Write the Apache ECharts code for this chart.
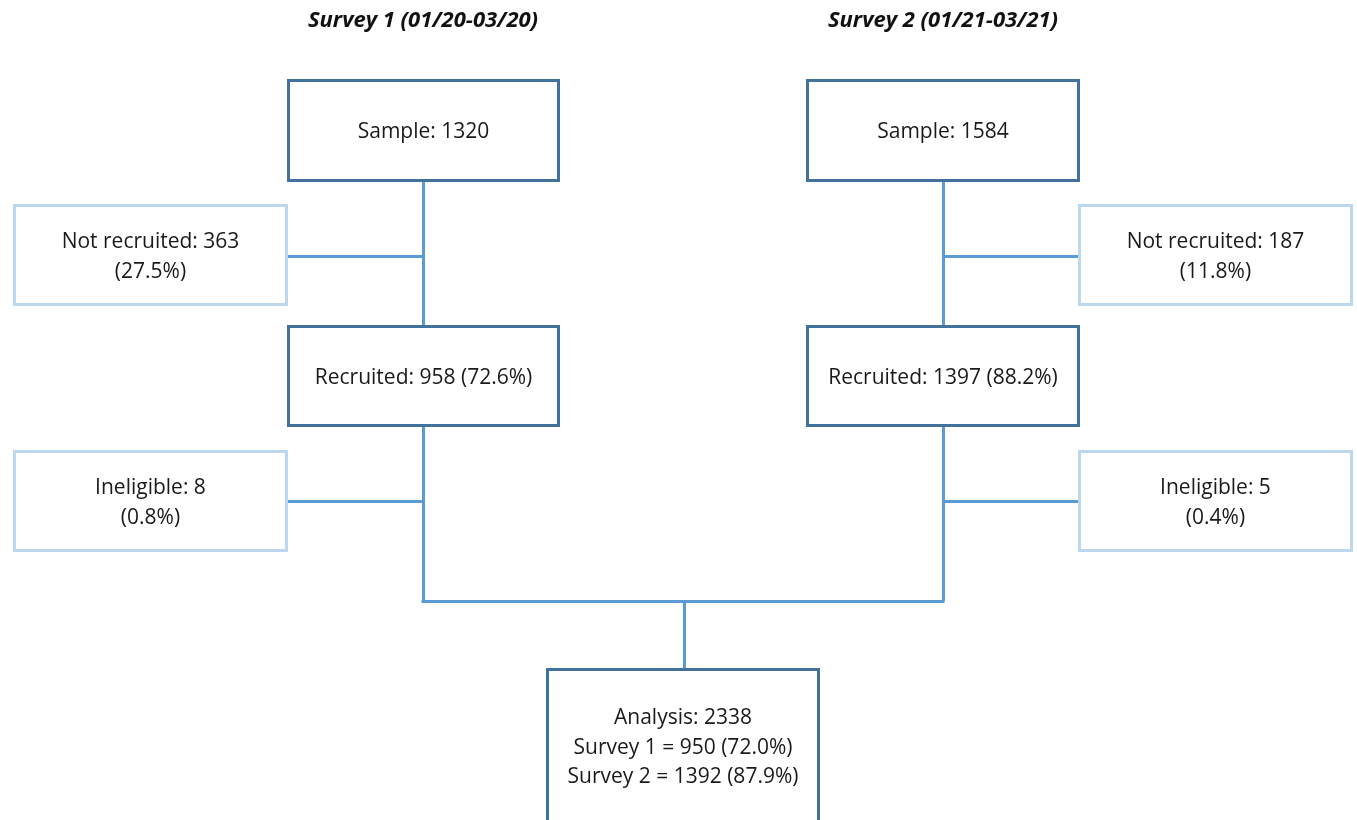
<!DOCTYPE html>
<html>
<head>
<meta charset="utf-8">
<script src="https://cdn.jsdelivr.net/npm/echarts@6/dist/echarts.min.js"></script>
<style>
html,body{margin:0;padding:0;background:#fff;}
#main{width:1357px;height:820px;}
</style>
</head>
<body>
<div id="main"></div>
<script>
// ---- data ----
const surveyTitles = ['Survey 1 (01/20-03/20)', 'Survey 2 (01/21-03/21)'];
const sampleN = [1320, 1584];
const notRecruitedN = [363, 187];
const notRecruitedPct = ['27.5%', '11.8%'];
const recruitedN = [958, 1397];
const recruitedPct = ['72.6%', '88.2%'];
const ineligibleN = [8, 5];
const ineligiblePct = ['0.8%', '0.4%'];
const analysisTotal = 2338;
const analysisN = [950, 1392];
const analysisPct = ['72.0%', '87.9%'];

// ---- layout (pixel space of the drawing) ----
const colX = [423, 943];             // column centre lines
const mainBoxX = [[287, 560], [806, 1080]];
const sideBoxX = [[13, 288], [1078, 1353]];
const rowY = { title: 21, sample: [79, 182], notRec: [204, 306], rec: [325, 427], inel: [450, 552], join: 601, analysis: [668, 826] };
const linkY = { notRec: 256, inel: 501 };
const analysisX = [546, 820];
const analysisStemX = 684;
const textShift = 2;

const DARK = '#41719C', LIGHT = '#BDD7EE', LINK = '#5B9BD5';

const boxes = [];
for (let i = 0; i < 2; i++) {
  boxes.push({ value: [mainBoxX[i][0], rowY.sample[0], mainBoxX[i][1], rowY.sample[1]], kind: 'dark', text: 'Sample: ' + sampleN[i] });
  boxes.push({ value: [sideBoxX[i][0], rowY.notRec[0], sideBoxX[i][1], rowY.notRec[1]], kind: 'light', text: 'Not recruited: ' + notRecruitedN[i] + '\n(' + notRecruitedPct[i] + ')' });
  boxes.push({ value: [mainBoxX[i][0], rowY.rec[0], mainBoxX[i][1], rowY.rec[1]], kind: 'dark', text: 'Recruited: ' + recruitedN[i] + ' (' + recruitedPct[i] + ')' });
  boxes.push({ value: [sideBoxX[i][0], rowY.inel[0], sideBoxX[i][1], rowY.inel[1]], kind: 'light', text: 'Ineligible: ' + ineligibleN[i] + '\n(' + ineligiblePct[i] + ')' });
}
boxes.push({ value: [analysisX[0], rowY.analysis[0], analysisX[1], rowY.analysis[1]], kind: 'dark', text: 'Analysis: ' + analysisTotal + '\nSurvey 1 = ' + analysisN[0] + ' (' + analysisPct[0] + ')\nSurvey 2 = ' + analysisN[1] + ' (' + analysisPct[1] + ')', textCY: 748 });

const titles = surveyTitles.map((t, i) => ({ value: [colX[i], rowY.title], text: t }));

const links = [];
for (let i = 0; i < 2; i++) {
  const sideEdge = i === 0 ? sideBoxX[0][1] : sideBoxX[1][0];
  links.push({ coords: [[colX[i], rowY.sample[1]], [colX[i], rowY.rec[0]]] });
  links.push({ coords: [[sideEdge, linkY.notRec], [colX[i], linkY.notRec]] });
  links.push({ coords: [[colX[i], rowY.rec[1]], [colX[i], rowY.join]] });
  links.push({ coords: [[sideEdge, linkY.inel], [colX[i], linkY.inel]] });
}
links.push({ coords: [[colX[0] - 1.5, rowY.join], [colX[1] + 1.5, rowY.join]] });
links.push({ coords: [[analysisStemX, rowY.join], [analysisStemX, rowY.analysis[0]]] });

const FONT = '"Open Sans", "Noto Sans", sans-serif';

const chart = echarts.init(document.getElementById('main'), null, { renderer: 'canvas' });
chart.setOption({
  animation: false,
  grid: { left: 0, right: 0, top: 0, bottom: 0 },
  xAxis: { type: 'value', min: 0, max: 1357, show: false },
  yAxis: { type: 'value', min: 0, max: 820, inverse: true, show: false },
  series: [
    {
      type: 'lines',
      coordinateSystem: 'cartesian2d',
      polyline: false,
      silent: true,
      lineStyle: { color: LINK, width: 3, opacity: 1 },
      data: links,
      z: 1
    },
    {
      type: 'custom',
      coordinateSystem: 'cartesian2d',
      silent: true,
      z: 2,
      data: boxes,
      renderItem: function (params, api) {
        const b = boxes[params.dataIndex];
        const p0 = api.coord([b.value[0], b.value[1]]);
        const p1 = api.coord([b.value[2], b.value[3]]);
        const cx = (p0[0] + p1[0]) / 2;
        const cy = b.textCY != null ? api.coord([0, b.textCY])[1] : (p0[1] + p1[1]) / 2 + textShift;
        return {
          type: 'group',
          children: [
            { type: 'rect', shape: { x: p0[0] + 1.5, y: p0[1] + 1.5, width: p1[0] - p0[0] - 3, height: p1[1] - p0[1] - 3 },
              style: { fill: '#fff', stroke: b.kind === 'dark' ? DARK : LIGHT, lineWidth: 3 } },
            { type: 'text', x: cx, y: cy,
              style: { text: b.text, fill: '#1a1a1a', font: '21px ' + FONT, align: 'center', verticalAlign: 'middle', lineHeight: 29.5 } }
          ]
        };
      }
    },
    {
      type: 'custom',
      coordinateSystem: 'cartesian2d',
      silent: true,
      z: 3,
      data: titles,
      renderItem: function (params, api) {
        const t = titles[params.dataIndex];
        const p = api.coord(t.value);
        return { type: 'text', x: p[0], y: p[1],
          style: { text: t.text, fill: '#111', font: 'italic bold 22px ' + FONT, align: 'center', verticalAlign: 'middle' } };
      }
    }
  ]
});
</script>
</body>
</html>
